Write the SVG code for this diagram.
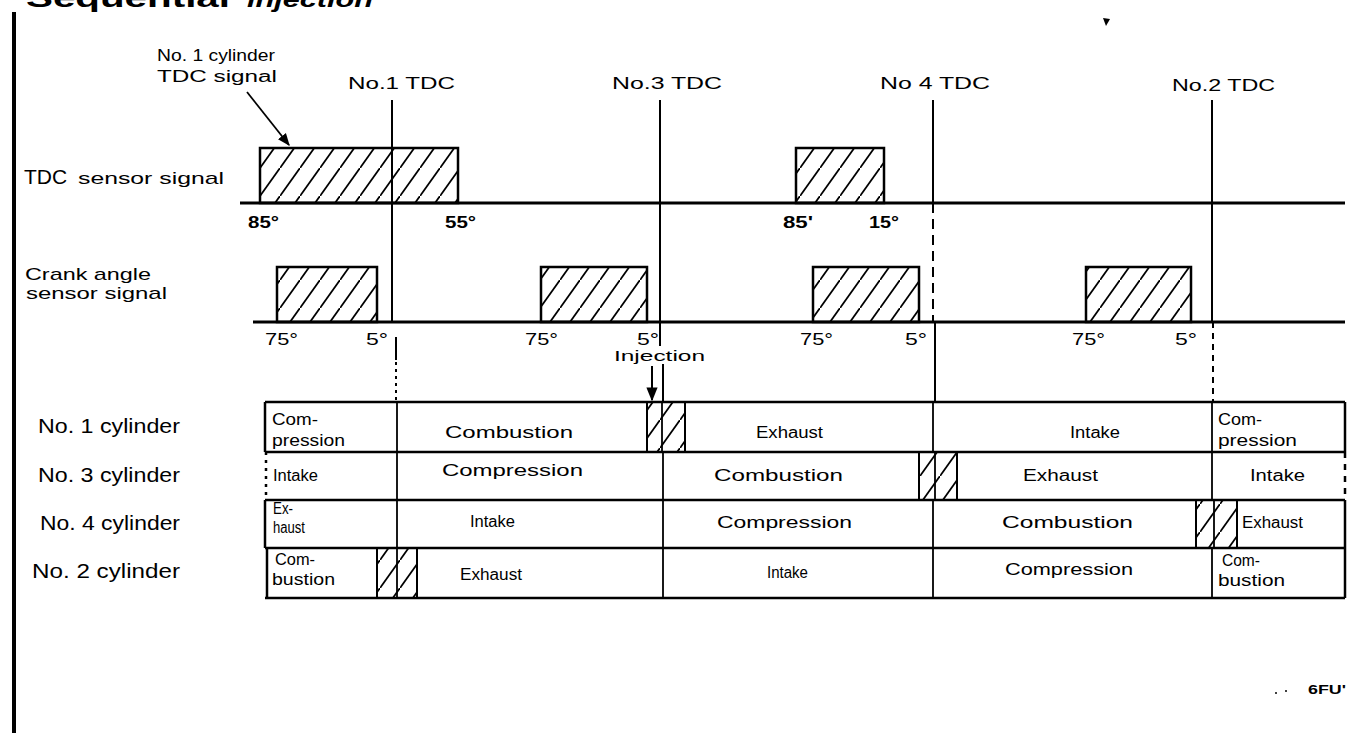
<svg xmlns="http://www.w3.org/2000/svg" width="1351" height="735" viewBox="0 0 1351 735">
<style>
.t{font-family:"Liberation Sans",Arial,sans-serif;fill:#000}
.lab{font-size:20px}
.sm{font-size:16px}
.cell{font-size:16px}
.deg{font-size:16px;font-weight:bold}
.dn{font-size:16px}
.ln{stroke:#000;fill:none}
.base{stroke:#000;stroke-width:3}
.pulse{fill:url(#hatch);stroke:#000;stroke-width:2.5}
.hbox{fill:url(#hatch);stroke:#000;stroke-width:2}
.div{stroke:#000;stroke-width:1.8}
.row{stroke:#000;stroke-width:2.5}
.tdc{stroke:#000;stroke-width:2}
</style>
<defs>
<pattern id="hatch" width="20" height="28" patternUnits="userSpaceOnUse">
<path d="M-2,30.8 L22,-2.8" stroke="#000" stroke-width="1.8"/>
</pattern>
<marker id="ah" viewBox="0 0 10 10" refX="9" refY="5" markerWidth="7" markerHeight="7" orient="auto">
<path d="M0,1 L10,5 L0,9 z" fill="#000"/>
</marker>
</defs>
<rect width="1351" height="735" fill="#fff"/>

<g id="title">
<text class="t" x="26" y="7" font-size="26" font-weight="bold" textLength="204" lengthAdjust="spacingAndGlyphs">Sequential</text>
<text class="t" x="247" y="7" font-size="22" font-weight="bold" font-style="italic" textLength="126" lengthAdjust="spacingAndGlyphs">injection</text>
<path d="M1103,18 L1110,19 L1106,26 z" fill="#000"/>
</g>

<g id="left-bar"><rect x="12" y="12" width="4" height="721" fill="#000"/></g>

<g id="labels-left">
<text class="t" x="24" y="184" font-size="21">TDC</text>
<text class="t" x="78" y="184" font-size="17" textLength="146" lengthAdjust="spacingAndGlyphs">sensor signal</text>
<text class="t" x="25" y="280" font-size="17" textLength="126" lengthAdjust="spacingAndGlyphs">Crank angle</text>
<text class="t" x="26" y="299" font-size="17" textLength="141" lengthAdjust="spacingAndGlyphs">sensor  signal</text>
<text class="t lab" x="38" y="433" textLength="142" lengthAdjust="spacingAndGlyphs">No. 1  cylinder</text>
<text class="t lab" x="38" y="482" textLength="142" lengthAdjust="spacingAndGlyphs">No. 3  cylinder</text>
<text class="t lab" x="40" y="530" textLength="140" lengthAdjust="spacingAndGlyphs">No. 4  cylinder</text>
<text class="t lab" x="32" y="578" textLength="148" lengthAdjust="spacingAndGlyphs">No. 2  cylinder</text>
</g>

<g id="tdc-labels">
<text class="t sm" x="157" y="61" textLength="118" lengthAdjust="spacingAndGlyphs">No. 1   cylinder</text>
<text class="t sm" x="157" y="82" textLength="120" lengthAdjust="spacingAndGlyphs">TDC  signal</text>
<text class="t sm" x="348" y="89" textLength="107" lengthAdjust="spacingAndGlyphs">No.1 TDC</text>
<text class="t sm" x="612" y="89" textLength="110" lengthAdjust="spacingAndGlyphs">No.3 TDC</text>
<text class="t sm" x="880" y="89" textLength="110" lengthAdjust="spacingAndGlyphs">No 4 TDC</text>
<text class="t sm" x="1172" y="91" textLength="103" lengthAdjust="spacingAndGlyphs">No.2 TDC</text>
</g>

<g id="tdc-signal">
<line class="base" x1="240" y1="203" x2="1345" y2="203"/>
<rect class="pulse" x="260" y="148" width="198" height="55"/>
<rect class="pulse" x="796" y="148" width="88" height="55"/>
<text class="t deg" x="248" y="228" textLength="31" lengthAdjust="spacingAndGlyphs">85°</text>
<text class="t deg" x="445" y="228" textLength="31" lengthAdjust="spacingAndGlyphs">55°</text>
<text class="t deg" x="783" y="228" textLength="30" lengthAdjust="spacingAndGlyphs">85'</text>
<text class="t deg" x="869" y="228" textLength="30" lengthAdjust="spacingAndGlyphs">15°</text>
</g>

<g id="crank-signal">
<line class="base" x1="253" y1="322" x2="1345" y2="322"/>
<rect class="pulse" x="277" y="267" width="100" height="55"/>
<rect class="pulse" x="541" y="267" width="106" height="55"/>
<rect class="pulse" x="813" y="267" width="106" height="55"/>
<rect class="pulse" x="1086" y="267" width="105" height="55"/>
<text class="t dn" x="265" y="345" textLength="33" lengthAdjust="spacingAndGlyphs">75°</text>
<text class="t dn" x="366" y="345" textLength="22" lengthAdjust="spacingAndGlyphs">5°</text>
<text class="t dn" x="525" y="345" textLength="33" lengthAdjust="spacingAndGlyphs">75°</text>
<text class="t dn" x="637" y="345" textLength="22" lengthAdjust="spacingAndGlyphs">5°</text>
<text class="t dn" x="800" y="345" textLength="33" lengthAdjust="spacingAndGlyphs">75°</text>
<text class="t dn" x="905" y="345" textLength="22" lengthAdjust="spacingAndGlyphs">5°</text>
<text class="t dn" x="1072" y="345" textLength="33" lengthAdjust="spacingAndGlyphs">75°</text>
<text class="t dn" x="1175" y="345" textLength="22" lengthAdjust="spacingAndGlyphs">5°</text>
</g>

<g id="connectors">
<line class="ln" x1="247" y1="92" x2="289" y2="145" stroke-width="1.8" marker-end="url(#ah)"/>
<line class="tdc" x1="392" y1="100" x2="392" y2="322"/>
<line class="tdc" x1="396" y1="337" x2="396" y2="360"/>
<line class="tdc" x1="396" y1="362" x2="396" y2="402" stroke-dasharray="3 4"/>
<line class="tdc" x1="660" y1="100" x2="660" y2="346"/>
<line class="tdc" x1="663" y1="364" x2="663" y2="402"/>
<line class="tdc" x1="933" y1="100" x2="933" y2="203"/>
<line class="tdc" x1="933" y1="203" x2="933" y2="322" stroke-dasharray="10 6"/>
<line class="tdc" x1="935" y1="322" x2="935" y2="402"/>
<line class="tdc" x1="1212" y1="100" x2="1212" y2="322"/>
<line class="tdc" x1="1213" y1="322" x2="1213" y2="402" stroke-dasharray="6 5"/>
<line class="ln" x1="652" y1="366" x2="652" y2="400" stroke-width="2" marker-end="url(#ah)"/>
</g>

<g id="injection-label">
<text class="t" x="614" y="361" font-size="14" textLength="91" lengthAdjust="spacingAndGlyphs">Injection</text>
</g>

<g id="table">
<line class="row" x1="265" y1="402" x2="1345" y2="402"/>
<line class="row" x1="265" y1="452" x2="1345" y2="452"/>
<line class="row" x1="265" y1="500" x2="1345" y2="500"/>
<line class="row" x1="265" y1="548" x2="1345" y2="548"/>
<line class="row" x1="265" y1="598" x2="1345" y2="598"/>
<line class="row" x1="265" y1="402" x2="265" y2="452"/>
<line class="row" x1="266" y1="452" x2="266" y2="500" stroke-dasharray="3 5"/>
<line class="row" x1="265" y1="500" x2="265" y2="548"/>
<line class="row" x1="267" y1="548" x2="267" y2="598"/>
<line class="row" x1="1345" y1="402" x2="1345" y2="452"/>
<line class="row" x1="1345" y1="452" x2="1345" y2="500" stroke-dasharray="6 6"/>
<line class="row" x1="1345" y1="500" x2="1345" y2="598"/>
</g>

<g id="cyl1-row">
<line class="div" x1="397" y1="402" x2="397" y2="452"/>
<rect class="hbox" x="647" y="402" width="38" height="50"/>
<line class="div" x1="662" y1="402" x2="662" y2="452"/>
<line class="div" x1="933" y1="402" x2="933" y2="452"/>
<line class="div" x1="1212" y1="402" x2="1212" y2="452"/>
<text class="t cell" x="272" y="425" textLength="46" lengthAdjust="spacingAndGlyphs">Com-</text>
<text class="t cell" x="272" y="446" textLength="73" lengthAdjust="spacingAndGlyphs">pression</text>
<text class="t cell" x="445" y="438" textLength="128" lengthAdjust="spacingAndGlyphs">Combustion</text>
<text class="t cell" x="756" y="438" textLength="67" lengthAdjust="spacingAndGlyphs">Exhaust</text>
<text class="t cell" x="1070" y="438" textLength="50" lengthAdjust="spacingAndGlyphs">Intake</text>
<text class="t cell" x="1218" y="425" textLength="44" lengthAdjust="spacingAndGlyphs">Com-</text>
<text class="t cell" x="1218" y="446" textLength="79" lengthAdjust="spacingAndGlyphs">pression</text>
</g>

<g id="cyl3-row">
<line class="div" x1="397" y1="452" x2="397" y2="500"/>
<line class="div" x1="663" y1="452" x2="663" y2="500"/>
<rect class="hbox" x="919" y="452" width="38" height="48"/>
<line class="div" x1="935" y1="452" x2="935" y2="500"/>
<line class="div" x1="1212" y1="452" x2="1212" y2="500"/>
<text class="t cell" x="273" y="481" textLength="45" lengthAdjust="spacingAndGlyphs">Intake</text>
<text class="t cell" x="442" y="476" textLength="141" lengthAdjust="spacingAndGlyphs">Compression</text>
<text class="t cell" x="714" y="481" textLength="129" lengthAdjust="spacingAndGlyphs">Combustion</text>
<text class="t cell" x="1023" y="481" textLength="75" lengthAdjust="spacingAndGlyphs">Exhaust</text>
<text class="t cell" x="1250" y="481" textLength="55" lengthAdjust="spacingAndGlyphs">Intake</text>
</g>

<g id="cyl4-row">
<line class="div" x1="397" y1="500" x2="397" y2="548"/>
<line class="div" x1="663" y1="500" x2="663" y2="548"/>
<line class="div" x1="933" y1="500" x2="933" y2="548"/>
<rect class="hbox" x="1196" y="500" width="41" height="48"/>
<line class="div" x1="1214" y1="500" x2="1214" y2="548"/>
<text class="t cell" x="273" y="514" textLength="20" lengthAdjust="spacingAndGlyphs">Ex-</text>
<text class="t cell" x="273" y="533" textLength="32" lengthAdjust="spacingAndGlyphs">haust</text>
<text class="t cell" x="470" y="527" textLength="45" lengthAdjust="spacingAndGlyphs">Intake</text>
<text class="t cell" x="717" y="528" textLength="135" lengthAdjust="spacingAndGlyphs">Compression</text>
<text class="t cell" x="1002" y="528" textLength="131" lengthAdjust="spacingAndGlyphs">Combustion</text>
<text class="t cell" x="1242" y="528" textLength="61" lengthAdjust="spacingAndGlyphs">Exhaust</text>
</g>

<g id="cyl2-row">
<rect class="hbox" x="377" y="548" width="40" height="50"/>
<line class="div" x1="397" y1="548" x2="397" y2="598"/>
<line class="div" x1="663" y1="548" x2="663" y2="598"/>
<line class="div" x1="933" y1="548" x2="933" y2="598"/>
<line class="div" x1="1212" y1="548" x2="1212" y2="598"/>
<text class="t cell" x="275" y="565" textLength="40" lengthAdjust="spacingAndGlyphs">Com-</text>
<text class="t cell" x="272" y="585" textLength="63" lengthAdjust="spacingAndGlyphs">bustion</text>
<text class="t cell" x="460" y="580" textLength="62" lengthAdjust="spacingAndGlyphs">Exhaust</text>
<text class="t cell" x="767" y="578" textLength="41" lengthAdjust="spacingAndGlyphs">Intake</text>
<text class="t cell" x="1005" y="575" textLength="128" lengthAdjust="spacingAndGlyphs">Compression</text>
<text class="t cell" x="1222" y="566" textLength="38" lengthAdjust="spacingAndGlyphs">Com-</text>
<text class="t cell" x="1218" y="586" textLength="67" lengthAdjust="spacingAndGlyphs">bustion</text>
</g>

<g id="code">
<circle cx="1276" cy="693" r="1" fill="#000"/>
<circle cx="1286" cy="691" r="1" fill="#000"/>
<text class="t" x="1308" y="694" font-size="13" font-weight="bold" textLength="38" lengthAdjust="spacingAndGlyphs">6FU'</text>
</g>
</svg>
